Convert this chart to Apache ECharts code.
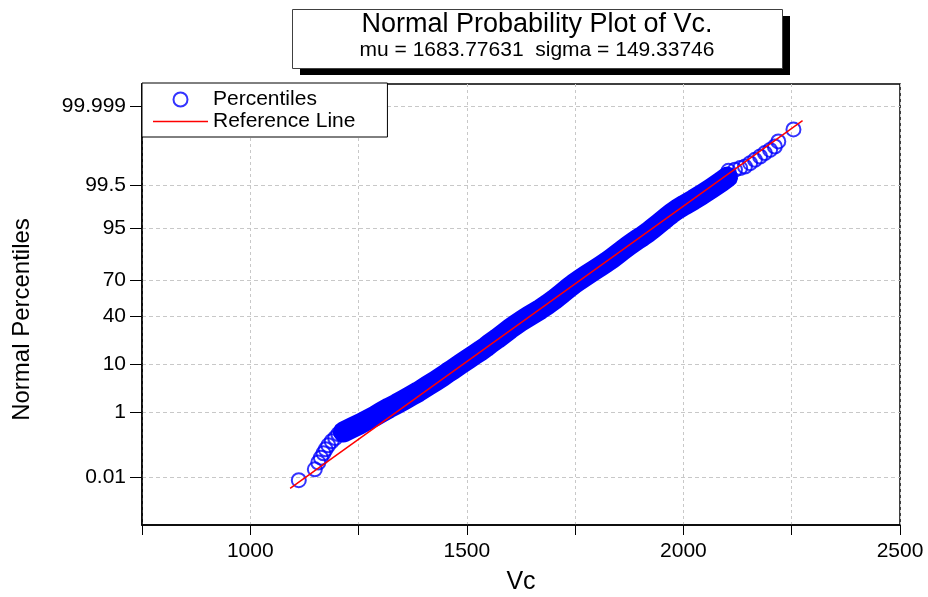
<!DOCTYPE html>
<html>
<head>
<meta charset="utf-8">
<script src="https://cdn.jsdelivr.net/npm/echarts@6/dist/echarts.min.js"></script>
<style>
html,body{margin:0;padding:0;background:#fff;}
#chart{width:928px;height:597px;}
</style>
</head>
<body>
<div id="chart"></div>
<script>
// ---------------- data ----------------
const titleText = 'Normal Probability Plot of Vc.';
const subtitleText = 'mu = 1683.77631  sigma = 149.33746';
const seriesNames = ['Percentiles', 'Reference Line'];
const xAxisName = 'Vc';
const yAxisName = 'Normal Percentiles';

const xRange = [750, 2500];
const xTickStep = 250;
const xLabelValues = [1000, 1500, 2000, 2500];

const yRangePct = [0.0001, 99.9999];
const yTickPct = [0.01, 1, 10, 40, 70, 95, 99.5, 99.999];
const yTickLabels = ['0.01', '1', '10', '40', '70', '95', '99.5', '99.999'];

// sample values (Vc) and their plotted normal percentiles (%)
const vcValues = [
  1112, 1149, 1157, 1163, 1169, 1174, 1180, 1188, 1196, 1203,
  1215, 1236, 1253, 1266, 1287, 1302, 1321, 1338, 1355, 1373,
  1388, 1410, 1428, 1443, 1455, 1467, 1486, 1503, 1518, 1532,
  1544, 1554, 1569.5, 1583, 1599.5, 1612, 1625, 1643, 1656.5, 1670,
  1686, 1701, 1711, 1721.5, 1735, 1746.5, 1759, 1778, 1794, 1811,
  1823, 1835, 1847, 1860, 1875, 1894, 1906, 1918, 1930, 1944,
  1961, 1972, 1986, 2002, 2023, 2042, 2066, 2088, 2102,
  2104, 2119, 2131, 2142, 2154, 2165, 2177, 2188, 2200, 2211, 2219, 2254
];
const pctValues = [
  0.0076, 0.019, 0.033, 0.048, 0.067, 0.09, 0.12, 0.16, 0.2, 0.26,
  0.3, 0.4, 0.5, 0.6, 0.8, 1, 1.3, 1.6, 2, 2.5,
  3, 4, 5, 6, 7, 8, 10, 12, 14, 16,
  18, 20, 23, 26, 30, 33, 36, 40, 43, 46,
  50, 54, 57, 60, 64, 67, 70, 74, 77, 80,
  82, 84, 86, 88, 90, 92, 93, 94, 95, 96,
  97, 97.5, 98, 98.4, 98.8, 99.1, 99.4, 99.6, 99.7,
  99.802, 99.815, 99.836, 99.853, 99.884, 99.909, 99.929, 99.945, 99.957, 99.967, 99.978, 99.992
];
// percentile range where the markers overlap into a solid band
const bandRangePct = [0.3, 99.7];

// reference line end points
const refLineVc = [1092, 2275];
const refLinePct = [0.0037, 99.9963];

// ---------------- probability scale ----------------
function probit(p) {
  const a = [-3.969683028665376e+01, 2.209460984245205e+02, -2.759285104469687e+02, 1.383577518672690e+02, -3.066479806614716e+01, 2.506628277459239e+00];
  const b = [-5.447609879822406e+01, 1.615858368580409e+02, -1.556989798598866e+02, 6.680131188771011e+01, -1.328068155288572e+01];
  const c = [-7.784894002430293e-03, -3.223964580411365e-01, -2.400758277161838e+00, -2.549732539343734e+00, 4.374664141464968e+00, 2.938163982698783e+00];
  const d = [7.784695709041462e-03, 3.224671290700398e-01, 2.445134137142996e+00, 3.754408661907416e+00];
  const pl = 0.02425, ph = 1 - pl;
  let q, r;
  if (p < pl) {
    q = Math.sqrt(-2 * Math.log(p));
    return (((((c[0]*q+c[1])*q+c[2])*q+c[3])*q+c[4])*q+c[5]) / ((((d[0]*q+d[1])*q+d[2])*q+d[3])*q+1);
  }
  if (p > ph) {
    q = Math.sqrt(-2 * Math.log(1 - p));
    return -(((((c[0]*q+c[1])*q+c[2])*q+c[3])*q+c[4])*q+c[5]) / ((((d[0]*q+d[1])*q+d[2])*q+d[3])*q+1);
  }
  q = p - 0.5; r = q * q;
  return (((((a[0]*r+a[1])*r+a[2])*r+a[3])*r+a[4])*r+a[5])*q / (((((b[0]*r+b[1])*r+b[2])*r+b[3])*r+b[4])*r+1);
}
const toZ = pct => probit(pct / 100);

const tickZ = yTickPct.map(toZ);
const points = vcValues.map((v, i) => [v, toZ(pctValues[i])]);
const bandPoints = points.filter((_, i) => pctValues[i] >= bandRangePct[0] && pctValues[i] <= bandRangePct[1]);
const refPoints = refLineVc.map((v, i) => [v, toZ(refLinePct[i])]);

const FONT = '"Liberation Sans", Arial, sans-serif';
const chart = echarts.init(document.getElementById('chart'), null, {renderer: 'canvas'});
chart.setOption({
  animation: false,
  backgroundColor: '#fff',
  textStyle: {fontFamily: FONT, color: '#000'},
  graphic: [
    {type: 'rect', z: 1, silent: true, shape: {x: 300, y: 16, width: 490, height: 59}, style: {fill: '#000'}},
    {type: 'rect', z: 2, silent: true, shape: {x: 292.5, y: 9.5, width: 490, height: 59}, style: {fill: '#fff', stroke: '#404040', lineWidth: 1}}
  ],
  title: {
    text: titleText,
    subtext: subtitleText,
    left: 537, top: 13.5,
    textAlign: 'center',
    padding: 0,
    itemGap: 0,
    z: 10,
    textStyle: {fontFamily: FONT, fontSize: 27, fontWeight: 'normal', color: '#000', lineHeight: 23},
    subtextStyle: {fontFamily: FONT, fontSize: 21, color: '#000', lineHeight: 20}
  },
  legend: {
    orient: 'vertical',
    left: 142, top: 83,
    padding: [6, 32, 5, 11],
    itemGap: 1,
    itemWidth: 55, itemHeight: 14,
    backgroundColor: '#fff',
    borderColor: '#000', borderWidth: 1,
    textStyle: {fontFamily: FONT, fontSize: 21, color: '#000'},
    data: [
      {name: seriesNames[0], itemStyle: {color: 'rgba(0,0,0,0)', borderColor: '#0000ff', borderWidth: 2}},
      {name: seriesNames[1], icon: 'path://M0 0H100V3H0Z', itemStyle: {color: '#ff0000', borderWidth: 0}}
    ]
  },
  grid: {
    left: 142, top: 84, width: 758, height: 441,
    show: true, borderColor: '#000', borderWidth: 1.5,
    containLabel: false, outerBoundsMode: 'none'
  },
  xAxis: {
    type: 'value',
    min: xRange[0], max: xRange[1], interval: xTickStep,
    name: xAxisName, nameLocation: 'middle', nameGap: 45,
    nameTextStyle: {fontFamily: FONT, fontSize: 25, color: '#000'},
    axisLine: {show: true, onZero: false, lineStyle: {color: '#000', width: 1.5}},
    axisTick: {show: true, length: 10, lineStyle: {color: '#000', width: 1}},
    axisLabel: {
      margin: 16, fontSize: 21, color: '#000', fontFamily: FONT,
      formatter: v => xLabelValues.indexOf(v) >= 0 ? String(v) : ''
    },
    splitLine: {show: true, lineStyle: {color: '#c8c8c8', width: 1, type: [3, 3]}}
  },
  yAxis: {
    type: 'value',
    min: toZ(yRangePct[0]), max: toZ(yRangePct[1]),
    name: yAxisName, nameLocation: 'middle', nameGap: 108, nameRotate: 90,
    nameTextStyle: {fontFamily: FONT, fontSize: 24, color: '#000', padding: [0, 30, 0, 0]},
    axisLine: {show: true, onZero: false, lineStyle: {color: '#000', width: 1.5}},
    axisTick: {show: true, length: 12, customValues: tickZ, lineStyle: {color: '#000', width: 1}},
    axisLabel: {
      margin: 16, fontSize: 21, color: '#000', fontFamily: FONT,
      customValues: tickZ,
      formatter: v => {
        const i = tickZ.findIndex(t => Math.abs(t - v) < 1e-6);
        return i >= 0 ? yTickLabels[i] : '';
      }
    },
    splitLine: {show: true, lineStyle: {color: '#c8c8c8', width: 1, type: [4, 3]}}
  },
  series: [
    {
      name: '_band',
      type: 'line',
      data: bandPoints,
      symbol: 'none',
      silent: true,
      lineStyle: {color: '#0000ff', width: 21, cap: 'round', join: 'round'},
      z: 2
    },
    {
      name: seriesNames[0],
      type: 'scatter',
      data: points,
      symbol: 'circle',
      symbolSize: 14,
      itemStyle: {color: 'rgba(0,0,0,0)', borderColor: '#0000ff', borderWidth: 2},
      z: 3
    },
    {
      name: seriesNames[1],
      type: 'line',
      data: refPoints,
      symbol: 'none',
      lineStyle: {color: '#ff0000', width: 1.5},
      itemStyle: {color: '#ff0000'},
      z: 4
    }
  ]
});
</script>
</body>
</html>
